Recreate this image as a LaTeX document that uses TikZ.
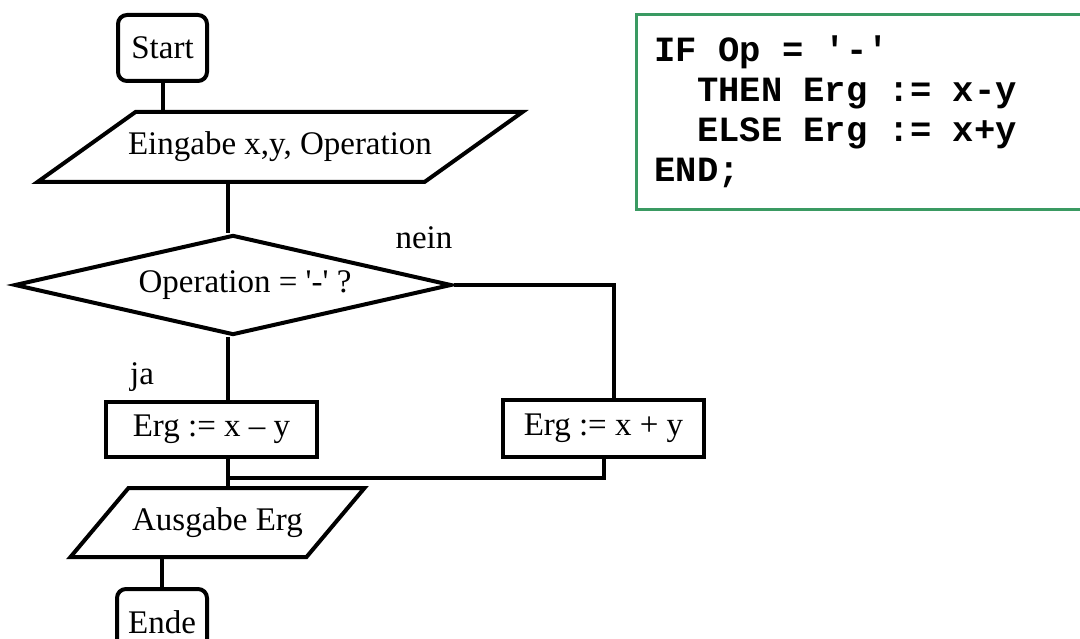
\documentclass[tikz,border=0pt]{standalone}
\usepackage{fontspec}
\setmainfont{Liberation Serif}
\setmonofont{Liberation Mono}
\usetikzlibrary{shapes.geometric}
\definecolor{codegreen}{RGB}{58,154,98}
\newcommand\tsp{\hspace*{0.6em}}
\begin{document}
\begin{tikzpicture}[x=1pt,y=-1pt,line width=4pt,
  font=\fontsize{33}{39}\selectfont,
  term/.style={draw, rounded corners=9pt, minimum width=89, minimum height=66, inner sep=0pt},
  iobody/.style={rectangle, inner sep=0pt},
  decide/.style={draw, diamond, aspect=4.37, minimum width=437, minimum height=100, inner sep=0pt},
  proc/.style={draw, rectangle, inner sep=0pt},
  codebox/.style={draw=codegreen, line width=3pt, text width=419, inner xsep=18,
    minimum height=195, align=left, font=\ttfamily\bfseries\fontsize{35.5}{40}\selectfont}]
\useasboundingbox (0,0) rectangle (1080,639);

% flow chart
\node[term] (start) at (162.5,48) {Start};
\node[iobody, minimum width=383, minimum height=66] (in) at (280,147) {Eingabe x,y, Operation};
\draw ([xshift=-49pt]in.south west) -- ([xshift=-49pt]in.south east)
  -- ([xshift=49pt]in.north east) -- ([xshift=49pt]in.north west) -- cycle;
\node[decide] (op) at (233,285) {\hspace*{24pt}Operation = \textquotesingle-\textquotesingle\ ?};
\node[proc, minimum width=211, minimum height=55] (minus) at (211.5,429.5) {Erg := x – y};
\node[proc, minimum width=201, minimum height=57] (plus) at (603.5,428.5) {Erg := x + y};
\node[iobody, minimum width=232, minimum height=65] (out) at (217.5,522.5) {Ausgabe Erg};
\draw ([xshift=-29pt]out.south west) -- ([xshift=-29pt]out.south east)
  -- ([xshift=29pt]out.north east) -- ([xshift=29pt]out.north west) -- cycle;
\node[term, minimum width=90] (ende) at (162,622) {Ende};
\node (ja) at (142,377) {ja};
\node (nein) at (424,238) {nein};
\coordinate (merge) at (228,478);
\coordinate (elbow) at (614,281);

\draw (start) -- (start |- in.north);
\draw (in.south -| merge) -- (op.north -| merge);
\draw (op.south -| merge) -- (minus.north -| merge);
\draw (op.east) -- (op.east -| elbow) -- (elbow |- plus.north);
\draw (plus.south) |- (merge);
\draw (minus.south -| merge) -- (out.north -| merge);
\draw (out.south -| ende) -- (ende);

% Pascal code
\node[codebox, anchor=north west] (code) at (635,13) {IF\tsp Op\tsp =\tsp \textquotesingle-\textquotesingle\\
\tsp\tsp THEN\tsp Erg\tsp :=\tsp x-y\\
\tsp\tsp ELSE\tsp Erg\tsp :=\tsp x+y\\
END;};
\end{tikzpicture}
\end{document}
